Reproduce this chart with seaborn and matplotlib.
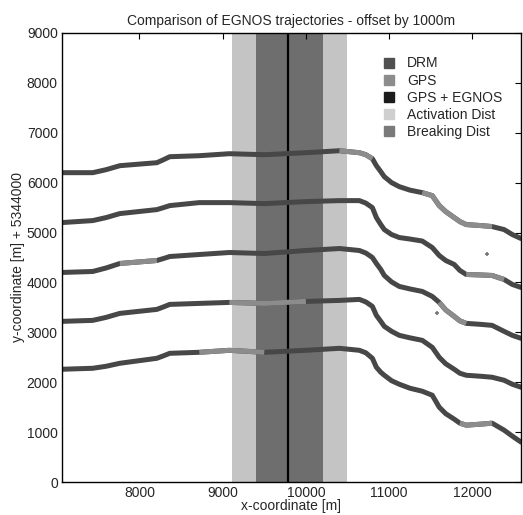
import matplotlib
matplotlib.use("Agg")
import matplotlib.pyplot as plt
from matplotlib.lines import Line2D
import seaborn as sns
import pandas as pd

# ---- data ----
x_m = [7070, 7440, 7600, 7765, 8210, 8290, 8365, 8720, 9080, 9500,
       10000, 10403, 10643, 10720, 10799, 10847, 10900, 10942, 11030, 11122,
       11250, 11398, 11518, 11602, 11680, 11782, 11850, 11926, 12100, 12237,
       12381, 12480, 12585]

traj1 = [2260, 2280, 2320, 2380, 2480, 2530, 2580, 2600, 2640, 2600,
         2640, 2680, 2640, 2590, 2480, 2300, 2200, 2140, 2030, 1960,
         1880, 1820, 1740, 1500, 1370, 1260, 1180, 1140, 1160, 1180,
         1040, 920, 800]
traj2 = [3220, 3240, 3300, 3380, 3460, 3510, 3560, 3580, 3600, 3580,
         3620, 3640, 3660, 3610, 3520, 3340, 3220, 3120, 3020, 2940,
         2890, 2840, 2700, 2500, 2370, 2260, 2180, 2140, 2120, 2100,
         2040, 1960, 1900]
traj3 = [4200, 4220, 4290, 4380, 4440, 4480, 4520, 4560, 4600, 4580,
         4640, 4680, 4640, 4590, 4500, 4380, 4260, 4140, 4010, 3920,
         3870, 3820, 3720, 3600, 3450, 3320, 3230, 3180, 3160, 3140,
         3020, 2940, 2880]
traj4 = [5200, 5240, 5300, 5380, 5460, 5500, 5540, 5600, 5600, 5580,
         5620, 5640, 5640, 5590, 5500, 5300, 5160, 5060, 4960, 4900,
         4870, 4830, 4700, 4540, 4440, 4360, 4240, 4160, 4150, 4140,
         4060, 3960, 3900]
traj5 = [6200, 6200, 6260, 6340, 6400, 6460, 6520, 6540, 6580, 6560,
         6600, 6640, 6600, 6560, 6480, 6340, 6220, 6120, 6000, 5920,
         5850, 5800, 5740, 5540, 5420, 5300, 5220, 5160, 5140, 5120,
         5060, 4960, 4880]

# segments of each trajectory that come from plain GPS (x range in m)
gps_traj = [1, 1, 2, 3, 3, 4, 5, 5]
gps_from = [11850, 8720, 9080, 7765, 11602, 11926, 10403, 11398]
gps_to = [12237, 9500, 10000, 8210, 11926, 12381, 10799, 12237]

# stray single fixes
stray_x = [11580, 12180]
stray_y = [3380, 4580]

activation = (9110, 10490)
breaking = (9400, 10200)
drm_line_x = 9790

x_ticks = [8000, 9000, 10000, 11000, 12000]
y_ticks = [0, 1000, 2000, 3000, 4000, 5000, 6000, 7000, 8000, 9000]

legend_labels = ["DRM", "GPS", "GPS + EGNOS", "Activation Dist", "Breaking Dist"]
legend_colors = ["#505050", "#8c8c8c", "#1c1c1c", "#cfcfcf", "#7a7a7a"]

# ---- plot ----
sns.set_style("white")
plt.rcParams["font.family"] = ["Liberation Sans", "DejaVu Sans"]
FS = 10

fig = plt.figure(figsize=(5.23, 5.15), dpi=100)
ax = fig.add_axes([0.1185, 0.064, 0.877, 0.872])

ax.axvspan(*activation, color="#c4c4c4", lw=0, zorder=0)
ax.axvspan(*breaking, color="#6e6e6e", lw=0, zorder=0.5)
ax.axvline(drm_line_x, color="black", lw=1.6, zorder=1)

trajs = [traj1, traj2, traj3, traj4, traj5]
for i, t in enumerate(trajs, start=1):
    df = pd.DataFrame({"x": x_m, "y": t})
    sns.lineplot(data=df, x="x", y="y", ax=ax, color="#474747", lw=3.6,
                 sort=False, zorder=2, solid_joinstyle="round",
                 solid_capstyle="round")
    for k in range(len(gps_traj)):
        if gps_traj[k] == i:
            sub = df[(df.x >= gps_from[k]) & (df.x <= gps_to[k])]
            sns.lineplot(data=sub, x="x", y="y", ax=ax, color="#8c8c8c",
                         lw=3.6, sort=False, zorder=3,
                         solid_joinstyle="round", solid_capstyle="butt")

sns.scatterplot(x=stray_x, y=stray_y, ax=ax, color="#777777", s=10,
                marker="+", linewidth=1.2, zorder=3)

ax.set_xlim(7070, 12580)
ax.set_ylim(0, 9000)
ax.set_xticks(x_ticks)
ax.set_yticks(y_ticks)
ax.tick_params(direction="in", top=True, right=True, length=4,
               labelsize=FS, color="black", pad=3)
for s in ax.spines.values():
    s.set_visible(True)
    s.set_color("black")
    s.set_linewidth(1.0)

ax.set_xlabel("x-coordinate [m]", fontsize=FS, labelpad=-1)
ax.set_ylabel("y-coordinate [m] + 5344000", fontsize=FS, labelpad=1)
ax.set_title("Comparison of EGNOS trajectories - offset by 1000m",
             fontsize=FS, pad=6)

handles = [Line2D([0], [0], marker="s", linestyle="none", markersize=7,
                  markerfacecolor=c, markeredgecolor=c) for c in legend_colors]
ax.legend(handles, legend_labels, loc="upper left",
          bbox_to_anchor=(0.67, 0.96), frameon=False, fontsize=FS,
          handletextpad=0.3, labelspacing=0.22, borderaxespad=0)

fig.savefig("out.png", dpi=100)
